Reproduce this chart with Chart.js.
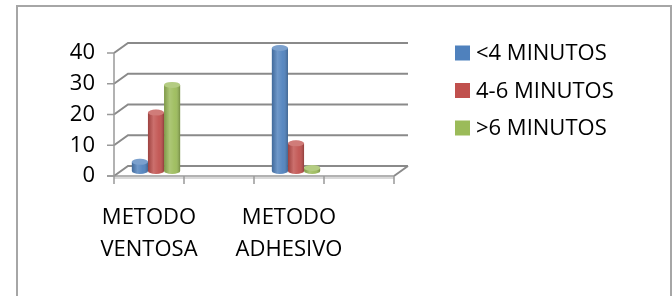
<!DOCTYPE html>
<html>
<head>
<meta charset="utf-8">
<script src="https://cdn.jsdelivr.net/npm/chart.js@4/dist/chart.umd.min.js"></script>
<style>
  html, body { margin: 0; padding: 0; background: #fff; }
  #wrap { width: 672px; height: 296px; }
</style>
</head>
<body>
<div id="wrap"><canvas id="chart" width="672" height="296"></canvas></div>
<script>
// ==================== DATA ====================
const categories = [['METODO', 'VENTOSA'], '', ['METODO', 'ADHESIVO'], ''];
const seriesNames = ['<4 MINUTOS', '4-6 MINUTOS', '>6 MINUTOS'];
const menos4 = [3, null, 40, null];
const entre4y6 = [19, null, 9, null];
const mas6 = [28, null, 1, null];
const yTicks = [0, 10, 20, 30, 40];
const colors = ['#4F81BD', '#C0504D', '#9BBB59'];

// 3D depth offsets (back wall vs front axis)
const DX = 14, DY = 10;
const FONT = { family: '"Open Sans", sans-serif', size: 22 };

// ==================== 3D FRAME + CYLINDERS ====================
const frame3d = {
    id: 'frame3d',
    beforeDatasetsDraw(chart) {
        const { ctx, chartArea: a, scales: { x, y } } = chart;
        ctx.save();

        // outer border
        ctx.strokeStyle = '#a6a6a6';
        ctx.lineWidth = 2;
        ctx.strokeRect(17, 6, 654, 310);

        // floor
        const y0 = y.getPixelForValue(0);
        ctx.fillStyle = '#ffffff';
        ctx.beginPath();
        ctx.moveTo(a.left, y0);
        ctx.lineTo(a.right, y0);
        ctx.lineTo(a.right + DX, y0 - DY);
        ctx.lineTo(a.left + DX, y0 - DY);
        ctx.closePath();
        ctx.fill();

        // back wall gridlines with left wall diagonals
        ctx.strokeStyle = '#8a8a8a';
        ctx.lineWidth = 2;
        yTicks.forEach(v => {
            const py = y.getPixelForValue(v);
            ctx.beginPath();
            ctx.moveTo(a.left, py);
            ctx.lineTo(a.left + DX, py - DY);
            ctx.lineTo(a.right + DX, py - DY);
            ctx.stroke();
        });

        // floor right edge + front edge
        ctx.beginPath();
        ctx.moveTo(a.right, y0);
        ctx.lineTo(a.right + DX, y0 - DY);
        ctx.stroke();
        ctx.strokeStyle = '#d9d9d9';
        ctx.lineWidth = 2;
        ctx.beginPath();
        ctx.moveTo(a.left, y0 + 2);
        ctx.lineTo(a.right, y0 + 2);
        ctx.stroke();
        ctx.strokeStyle = '#999999';
        ctx.lineWidth = 1.5;
        ctx.beginPath();
        ctx.moveTo(a.left - 7, y0);
        ctx.lineTo(a.right, y0);
        ctx.stroke();

        // front value axis with tick marks
        ctx.beginPath();
        ctx.moveTo(a.left, y.getPixelForValue(40));
        ctx.lineTo(a.left, y0 + 3);
        yTicks.forEach(v => {
            const py = y.getPixelForValue(v);
            ctx.moveTo(a.left - 7, py);
            ctx.lineTo(a.left, py);
        });
        // category tick marks
        const step = (a.right - a.left) / categories.length;
        for (let i = 0; i <= categories.length; i++) {
            const px = a.left + i * step;
            ctx.moveTo(px, y0);
            ctx.lineTo(px, y0 + 8);
        }
        ctx.stroke();
        ctx.restore();

        // bars sit half way into the depth
        ctx.save();
        ctx.translate(DX / 2, -DY / 2);
    },
    afterDatasetsDraw(chart) {
        const { ctx } = chart;
        chart.data.datasets.forEach((ds, i) => {
            const meta = chart.getDatasetMeta(i);
            meta.data.forEach((bar, j) => {
                if (ds.data[j] === null) return;
                const { x, y, base, width } = bar.getProps(['x', 'y', 'base', 'width'], true);
                const l = x - width / 2, r = x + width / 2;
                const ry = 3;
                // shading across the cylinder
                const g = ctx.createLinearGradient(l, 0, r, 0);
                g.addColorStop(0, 'rgba(0,0,0,0.18)');
                g.addColorStop(0.35, 'rgba(255,255,255,0.18)');
                g.addColorStop(0.7, 'rgba(255,255,255,0.05)');
                g.addColorStop(1, 'rgba(0,0,0,0.25)');
                ctx.fillStyle = g;
                ctx.fillRect(l, y, width, base - y);
                // bottom rim
                ctx.fillStyle = colors[i];
                ctx.beginPath();
                ctx.ellipse(x, base, width / 2, ry, 0, 0, Math.PI);
                ctx.fill();
                ctx.fillStyle = g;
                ctx.fill();
                // top cap
                ctx.fillStyle = colors[i];
                ctx.beginPath();
                ctx.ellipse(x, y, width / 2, ry, 0, 0, Math.PI * 2);
                ctx.fill();
                ctx.fillStyle = 'rgba(255,255,255,0.25)';
                ctx.fill();
            });
        });
        ctx.restore();
    },
    afterDraw(chart) {
        // legend on the right
        const { ctx } = chart;
        ctx.save();
        ctx.font = `${FONT.size}px ${FONT.family}`;
        ctx.textBaseline = 'middle';
        ctx.fillStyle = '#000';
        chart.data.datasets.forEach((ds, i) => {
            const cy = 53 + i * 37.5;
            ctx.fillStyle = colors[i];
            ctx.fillRect(455, cy - 7.5, 15, 15);
            ctx.fillStyle = '#000';
            ctx.fillText(ds.label, 476, cy + 1);
        });
        ctx.restore();
    }
};

// ==================== CHART ====================
const datasets = [menos4, entre4y6, mas6].map((values, i) => ({
    label: seriesNames[i],
    data: values,
    backgroundColor: colors[i],
    borderWidth: 0,
    barPercentage: 1,
    categoryPercentage: 0.69
}));

new Chart(document.getElementById('chart'), {
    type: 'bar',
    data: { labels: categories, datasets: datasets },
    options: {
        responsive: false,
        animation: false,
        skipNull: true,
        layout: { padding: { top: 53, right: 278, bottom: 20, left: 0 } },
        plugins: { legend: { display: false }, tooltip: { enabled: false } },
        scales: {
            x: {
                grid: { display: false, drawTicks: false },
                border: { display: false },
                ticks: { font: { ...FONT, lineHeight: 1.45 }, color: '#000', maxRotation: 0, autoSkip: false, padding: 26 },
                afterFit: s => { s.height = 100; }
            },
            y: {
                min: 0,
                max: 40,
                grid: { display: false, drawTicks: false },
                border: { display: false },
                ticks: { font: FONT, color: '#000', stepSize: 10, padding: 19 },
                afterFit: s => { s.width = 114; }
            }
        }
    },
    plugins: [frame3d]
});
</script>
</body>
</html>
